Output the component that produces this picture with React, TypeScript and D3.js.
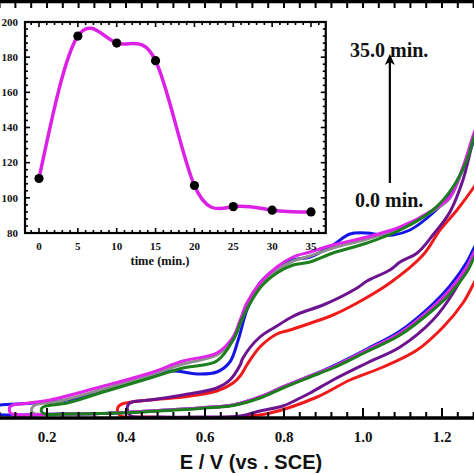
import React from "react";
import * as d3 from "d3";

const W = 474;
const H = 474;

// ---- main plot: potential axis ----
const eMajorTicks = [0.2, 0.4, 0.6, 0.8, 1.0, 1.2];
const eTickLabels = ["0.2", "0.4", "0.6", "0.8", "1.0", "1.2"];

// ---- CV loops [E (V vs SCE), I (a.u.)] : upper branch right->left, turn, lower branch left->right ----
const blueLoop: [number, number][] = [
  [1.309, 60.6], [1.281, 55.6], [1.246, 48.6], [1.208, 43.6], [1.177, 41.0], [1.119, 37.6], [1.076, 36.6],
  [1.043, 36.6], [1.01, 37.0], [0.967, 36.8], [0.924, 34.6], [0.866, 32.2], [0.823, 31.6], [0.782, 30.0],
  [0.739, 27.0], [0.706, 21.6], [0.684, 15.6], [0.663, 11.2], [0.63, 9.2], [0.587, 8.8], [0.519, 9.4],
  [0.486, 9.0], [0.418, 7.2], [0.334, 5.2], [0.251, 3.6], [0.165, 3.0], [0.081, 2.6], [0.066, 2.4],
  [0.061, 1.8], [0.061, 1.2], [0.068, 0.8],
  [0.233, 0.8], [0.334, 0.9], [0.418, 1.2], [0.461, 1.4], [0.587, 2.0], [0.671, 2.6], [0.739, 4.2],
  [0.797, 6.2], [0.866, 8.4], [0.924, 10.4], [1.01, 13.8], [1.094, 17.4], [1.177, 22.8], [1.22, 26.4],
  [1.263, 31.2], [1.281, 34.0], [1.309, 37.8],
];

const grayLoop: [number, number][] = [
  [1.309, 62.0], [1.281, 56.4], [1.253, 50.0], [1.22, 44.0], [1.177, 41.4], [1.094, 38.0], [1.01, 35.8],
  [0.924, 34.0], [0.866, 32.4], [0.823, 31.4], [0.782, 29.6], [0.739, 26.6], [0.706, 22.2], [0.689, 18.8],
  [0.671, 15.6], [0.63, 12.6], [0.544, 10.8], [0.461, 8.6], [0.334, 5.6], [0.233, 3.4], [0.17, 2.6],
  [0.162, 2.0], [0.162, 1.2], [0.17, 0.8],
  [0.233, 0.8], [0.334, 0.9], [0.418, 1.2], [0.461, 1.4], [0.587, 2.0], [0.671, 2.6], [0.739, 4.2],
  [0.797, 6.2], [0.866, 8.4], [0.924, 10.2], [1.01, 13.6], [1.094, 17.0], [1.177, 22.2], [1.22, 25.6],
  [1.263, 30.2], [1.281, 33.0], [1.309, 36.6],
];

const magentaLoop: [number, number][] = [
  [1.309, 62.6], [1.281, 57.0], [1.253, 50.2], [1.22, 44.2], [1.177, 41.6], [1.094, 38.2], [1.01, 36.2],
  [0.924, 34.6], [0.866, 33.2], [0.823, 32.2], [0.782, 30.2], [0.739, 27.0], [0.706, 23.0], [0.689, 19.6],
  [0.671, 16.2], [0.63, 13.0], [0.544, 11.4], [0.461, 9.0], [0.334, 6.2], [0.208, 3.6], [0.132, 2.8],
  [0.114, 2.6], [0.106, 2.2], [0.106, 1.2], [0.111, 0.8],
  [0.233, 0.8], [0.334, 0.9], [0.418, 1.2], [0.461, 1.4], [0.587, 2.0], [0.671, 2.6], [0.739, 4.2],
  [0.797, 6.2], [0.866, 8.4], [0.924, 10.2], [1.01, 13.6], [1.094, 17.0], [1.177, 22.2], [1.22, 25.6],
  [1.263, 30.2], [1.281, 33.0], [1.309, 36.6],
];

const greenLoop: [number, number][] = [
  [1.309, 61.6], [1.281, 56.2], [1.263, 51.6], [1.228, 46.2], [1.177, 41.6], [1.094, 37.6], [1.01, 35.0],
  [0.924, 33.0], [0.866, 31.2], [0.823, 30.6], [0.782, 29.0], [0.739, 26.0], [0.696, 20.2], [0.671, 15.6],
  [0.63, 11.4], [0.544, 10.0], [0.461, 8.0], [0.334, 5.0], [0.251, 3.0], [0.197, 2.4], [0.187, 2.0],
  [0.187, 1.2], [0.195, 0.8],
  [0.251, 0.8], [0.334, 0.9], [0.418, 1.1], [0.461, 1.3], [0.587, 1.9], [0.671, 2.5], [0.739, 4.0],
  [0.797, 6.0], [0.866, 8.2], [0.924, 10.0], [1.01, 13.3], [1.094, 16.6], [1.177, 21.6], [1.22, 24.8],
  [1.263, 29.2], [1.281, 32.0], [1.309, 35.6],
];

const purpleLoop: [number, number][] = [
  [1.309, 63.6], [1.278, 55.2], [1.253, 47.6], [1.22, 41.2], [1.177, 36.6], [1.137, 33.0], [1.094, 31.2],
  [1.068, 29.6], [1.01, 27.4], [0.985, 26.0], [0.899, 22.6], [0.841, 21.0], [0.815, 20.0], [0.782, 18.4],
  [0.739, 16.2], [0.696, 12.0], [0.689, 10.6], [0.663, 7.6], [0.63, 6.0], [0.544, 4.6], [0.461, 3.6],
  [0.415, 3.2], [0.405, 2.6], [0.405, 1.2], [0.413, 0.4],
  [0.486, 0.2], [0.587, 0.2], [0.689, 0.4], [0.739, 1.4], [0.797, 2.4], [0.841, 4.0], [0.866, 5.0],
  [0.924, 7.6], [1.01, 11.0], [1.094, 14.2], [1.177, 19.6], [1.228, 25.0], [1.271, 31.6], [1.309, 38.0],
];

const redLoop: [number, number][] = [
  [1.309, 49.6], [1.281, 46.2], [1.238, 41.6], [1.195, 37.6], [1.152, 32.6], [1.068, 27.0], [0.985, 23.0],
  [0.924, 20.6], [0.815, 17.6], [0.782, 16.8], [0.739, 14.2], [0.706, 10.6], [0.689, 8.4], [0.671, 7.0],
  [0.63, 5.4], [0.544, 4.2], [0.461, 3.6], [0.39, 2.8], [0.38, 2.2], [0.38, 1.0], [0.387, 0.4],
  [0.461, 0.2], [0.587, 0.0], [0.689, 0.2], [0.765, 1.0], [0.884, 4.2], [0.967, 7.6], [1.051, 10.2],
  [1.137, 13.6], [1.203, 18.2], [1.253, 23.0], [1.281, 27.0], [1.309, 31.2],
];

const loops = [
  { name: "red", color: "#f01a1a", data: redLoop },
  { name: "purple", color: "#6c1490", data: purpleLoop },
  { name: "blue", color: "#1414e6", data: blueLoop },
  { name: "gray", color: "#8e8e8e", data: grayLoop },
  { name: "magenta", color: "#e024ea", data: magentaLoop },
  { name: "green", color: "#1c7e1c", data: greenLoop },
];

// ---- inset: peak current vs time ----
const insetTime = [0, 5, 10, 15, 20, 25, 30, 35];
const insetCurrent = [111, 192, 188, 178, 107, 95, 93, 92];
const insetXTicks = [0, 5, 10, 15, 20, 25, 30, 35];
const insetYTicks = [80, 100, 120, 140, 160, 180, 200];

export default function App() {
  const x = d3.scaleLinear().domain([0.2, 1.2]).range([47, 442]);
  const y = d3.scaleLinear().domain([0, 83]).range([418, 3]);
  const line = d3
    .line<[number, number]>()
    .x((d) => x(d[0]))
    .y((d) => y(d[1]))
    .curve(d3.curveCatmullRom.alpha(0.5));

  const minorE = d3.range(0.08, 1.3, 0.04);

  const xi = d3.scaleLinear().domain([0, 35]).range([39, 311]);
  const yi = d3.scaleLinear().domain([80, 200]).range([233, 22]);
  const frameL = xi(-1.8);
  const frameR = xi(36.9);
  const frameT = yi(200);
  const frameB = yi(80);
  const insetLine = d3
    .line<number>()
    .x((_, i) => xi(insetTime[i]))
    .y((d) => yi(d))
    .curve(d3.curveNatural);
  const insetMinorX = d3.range(-1, 37, 1);
  const insetMinorY = d3.range(80, 201, 4);

  const serif = "'Liberation Serif', 'Times New Roman', serif";
  const sans = "'Liberation Sans', Arial, sans-serif";

  const arrowX = x(1.068);
  const arrowBottom = y(47);
  const arrowTop = y(72.4);

  return (
    <svg width={W} height={H} style={{ position: "absolute", left: 0, top: 0, background: "#fff" }}>
      <defs>
        <clipPath id="plotClip">
          <rect x={0} y={3} width={W} height={415} />
        </clipPath>
      </defs>
      <rect x={0} y={0} width={W} height={H} fill="#fff" />

      {/* CV curves */}
      <g clipPath="url(#plotClip)">
        {loops.map((l) => (
          <path
            key={l.name}
            d={line(l.data) || ""}
            fill="none"
            stroke={l.color}
            strokeWidth={3}
            strokeLinejoin="round"
            strokeLinecap="round"
          />
        ))}
      </g>

      {/* top frame */}
      <line x1={0} x2={W} y1={1.5} y2={1.5} stroke="#000" strokeWidth={3.5} />
      {minorE.map((e, i) => (
        <line key={"tt" + i} x1={x(e)} x2={x(e)} y1={3} y2={8} stroke="#000" strokeWidth={2} />
      ))}

      {/* bottom axis */}
      <line x1={0} x2={W} y1={418} y2={418} stroke="#000" strokeWidth={3.5} />
      {minorE.map((e, i) => {
        const major = eMajorTicks.some((m) => Math.abs(m - e) < 1e-6);
        return (
          <line
            key={"bt" + i}
            x1={x(e)}
            x2={x(e)}
            y1={417}
            y2={major ? 408 : 412}
            stroke="#000"
            strokeWidth={2}
          />
        );
      })}
      {eMajorTicks.map((e, i) => (
        <text
          key={"bl" + i}
          x={x(e)}
          y={442}
          textAnchor="middle"
          fontFamily={serif}
          fontWeight="bold"
          fontSize={15}
          fill="#111"
        >
          {eTickLabels[i]}
        </text>
      ))}
      <text x={251} y={469} textAnchor="middle" fontFamily={sans} fontWeight="bold" fontSize={20} fill="#111">
        E / V (vs . SCE)
      </text>

      {/* annotations */}
      <text x={350} y={57} fontFamily={serif} fontWeight="bold" fontSize={20} fill="#111">
        35.0 min.
      </text>
      <text x={355} y={207} fontFamily={serif} fontWeight="bold" fontSize={20} fill="#111">
        0.0 min.
      </text>
      <line x1={arrowX} x2={arrowX} y1={arrowBottom} y2={arrowTop + 6} stroke="#000" strokeWidth={2.2} />
      <path
        d={`M${arrowX},${arrowTop - 2} L${arrowX - 5},${arrowTop + 9} L${arrowX},${arrowTop + 6} L${arrowX + 5},${arrowTop + 9} Z`}
        fill="#000"
      />

      {/* inset */}
      <rect x={frameL} y={frameT} width={frameR - frameL} height={frameB - frameT} fill="#fff" />
      <path d={insetLine(insetCurrent) || ""} fill="none" stroke="#dc20e6" strokeWidth={3.5} />
      {insetTime.map((t, i) => (
        <circle key={"pt" + i} cx={xi(t)} cy={yi(insetCurrent[i])} r={4.6} fill="#000" />
      ))}
      {insetMinorX.map((t) => {
        const major = t % 5 === 0;
        const len = major ? 5 : 3;
        return (
          <g key={"ix" + t}>
            <line x1={xi(t)} x2={xi(t)} y1={frameB} y2={frameB - len} stroke="#000" strokeWidth={1.6} />
            <line x1={xi(t)} x2={xi(t)} y1={frameT} y2={frameT + len} stroke="#000" strokeWidth={1.6} />
          </g>
        );
      })}
      {insetMinorY.map((v) => {
        const major = v % 20 === 0;
        const len = major ? 5 : 3;
        return (
          <g key={"iy" + v}>
            <line x1={frameL} x2={frameL + len} y1={yi(v)} y2={yi(v)} stroke="#000" strokeWidth={1.6} />
            <line x1={frameR} x2={frameR - len} y1={yi(v)} y2={yi(v)} stroke="#000" strokeWidth={1.6} />
          </g>
        );
      })}
      <rect
        x={frameL}
        y={frameT}
        width={frameR - frameL}
        height={frameB - frameT}
        fill="none"
        stroke="#000"
        strokeWidth={2.2}
      />
      {insetYTicks.map((v) => (
        <text
          key={"iyl" + v}
          x={18}
          y={yi(v) + 3.8}
          textAnchor="end"
          fontFamily={serif}
          fontWeight="bold"
          fontSize={11}
          fill="#111"
        >
          {v}
        </text>
      ))}
      {insetXTicks.map((t) => (
        <text
          key={"ixl" + t}
          x={xi(t)}
          y={250}
          textAnchor="middle"
          fontFamily={serif}
          fontWeight="bold"
          fontSize={11}
          fill="#111"
        >
          {t}
        </text>
      ))}
      <text x={160} y={265} textAnchor="middle" fontFamily={serif} fontWeight="bold" fontSize={12.5} fill="#111">
        time (min.)
      </text>
    </svg>
  );
}
